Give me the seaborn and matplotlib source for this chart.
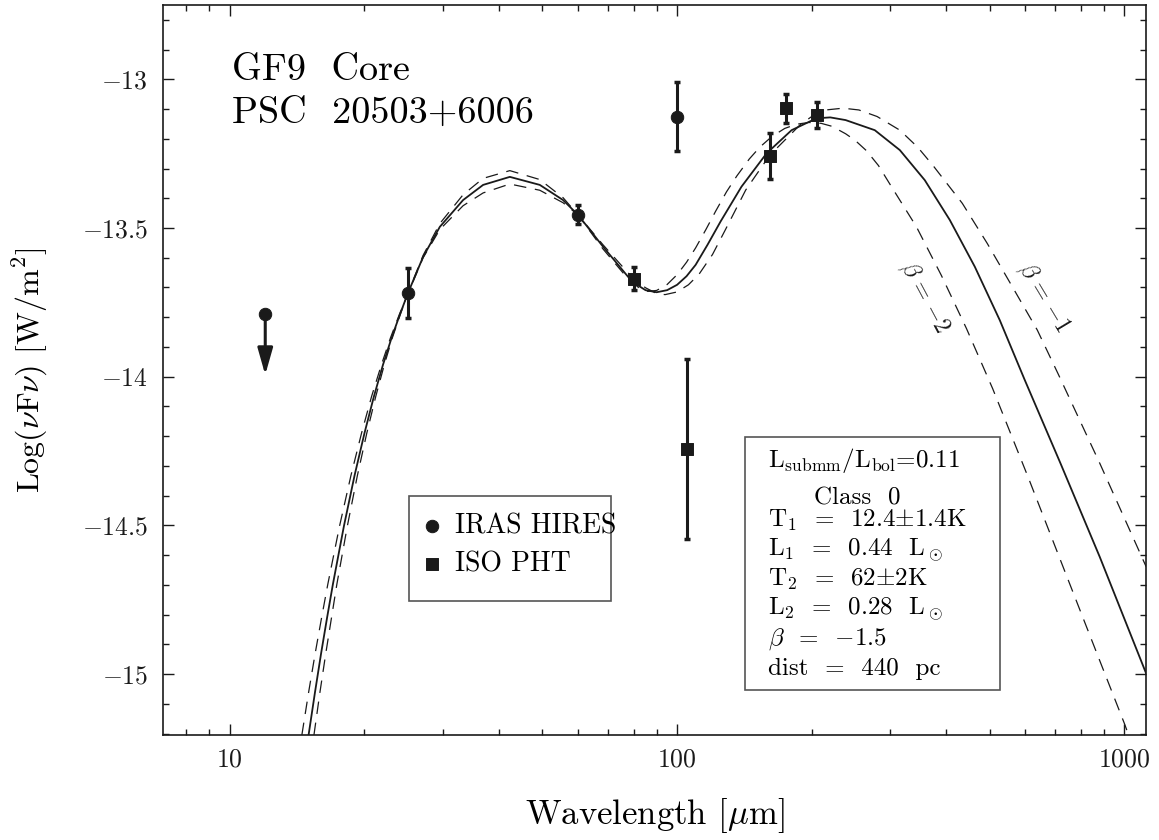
import numpy as np
import pandas as pd
import matplotlib
matplotlib.use("Agg")
import matplotlib.pyplot as plt
import seaborn as sns
from matplotlib.patches import Rectangle
from matplotlib.ticker import FixedLocator, MultipleLocator, LogLocator, NullFormatter

# --- model curves: wavelength [um] / log(nu F_nu) [W/m^2] ---
wl_fit = [15.0, 15.5, 16.0, 16.5, 17.0, 18.0, 19.0, 20.0, 21.0, 22.0,
          23.0, 24.0, 25.0, 27.05, 29.48, 33.23, 36.84, 42.27, 49.32, 55.6,
          60.06, 68.33, 77.7, 80, 85, 90, 95, 100, 105, 110,
          117, 125.1, 139.3, 158.5, 180.3, 204.9, 220, 238.1, 276.7, 314.8,
          357.9, 407.1, 463.0, 526.6, 598.8, 719.6, 881.0, 1118.7]
logf_fit = [-15.205, -15.062, -14.930, -14.810, -14.698, -14.501, -14.333, -14.190, -14.066, -13.960,
            -13.869, -13.791, -13.720, -13.597, -13.496, -13.406, -13.355, -13.328, -13.355, -13.406,
            -13.456, -13.563, -13.664, -13.684, -13.709, -13.716, -13.709, -13.691, -13.662, -13.624,
            -13.556, -13.478, -13.361, -13.249, -13.171, -13.131, -13.128, -13.137, -13.171, -13.238,
            -13.339, -13.473, -13.630, -13.810, -14.011, -14.291, -14.606, -14.998]

# beta = -1 variant
wl_b1 = [14.49, 15.0, 15.52, 16.04, 16.56, 17.6, 18.65, 19.7, 20.75, 21.82,
         22.87, 23.93, 25.03, 27.05, 29.48, 33.23, 36.84, 42.27, 49.32, 55.6,
         60.06, 68.25, 77.6, 80, 85, 90, 94, 100, 106, 112,
         120, 128, 142.4, 161.2, 188.1, 200, 215, 235, 255, 280,
         314.8, 345, 373.5, 434.2, 493.8, 561.5, 638.7, 713.4, 881.0, 1118.7]
logf_b1 = [-15.205, -15.062, -14.930, -14.810, -14.698, -14.501, -14.333, -14.190, -14.066, -13.960,
           -13.869, -13.791, -13.720, -13.600, -13.505, -13.425, -13.382, -13.352, -13.373, -13.415,
           -13.456, -13.556, -13.650, -13.671, -13.701, -13.720, -13.724, -13.715, -13.691, -13.655,
           -13.589, -13.508, -13.372, -13.255, -13.154, -13.125, -13.103, -13.097, -13.103, -13.125,
           -13.171, -13.228, -13.290, -13.417, -13.552, -13.697, -13.843, -13.995, -14.291, -14.639]

# beta = -2 variant
wl_b2 = [15.42, 15.9, 16.39, 16.88, 17.35, 18.32, 19.28, 20.24, 21.2, 22.15,
         23.09, 24.05, 25.03, 27.05, 29.48, 33.23, 36.84, 42.27, 49.32, 55.6,
         60.06, 68.25, 77.6, 82, 86, 90, 95, 100, 105, 110,
         116, 122, 129, 136, 145, 153.1, 163, 174.1, 185, 197,
         210, 222, 238.1, 250, 265.1, 282, 301.5, 342.9, 390, 443.6,
         507.6, 610.1, 733.1, 881, 1000, 1025]
logf_b2 = [-15.205, -15.062, -14.930, -14.810, -14.698, -14.501, -14.333, -14.190, -14.066, -13.960,
           -13.869, -13.791, -13.718, -13.592, -13.485, -13.388, -13.333, -13.307, -13.337, -13.398,
           -13.456, -13.570, -13.670, -13.700, -13.713, -13.710, -13.690, -13.657, -13.615, -13.567,
           -13.505, -13.443, -13.378, -13.325, -13.268, -13.228, -13.192, -13.165, -13.151, -13.145,
           -13.148, -13.158, -13.183, -13.205, -13.240, -13.290, -13.361, -13.496, -13.660, -13.838,
           -14.040, -14.340, -14.648, -14.955, -15.166, -15.21]

# --- photometry ---
iras_wl = [25, 60, 100]
iras_logf = [-13.718, -13.456, -13.126]
iras_err = [0.083, 0.032, 0.116]
iras_ul_wl = [12]          # upper limit
iras_ul_logf = [-13.789]
iras_ul_tip = [-13.994]

iso_wl = [80, 105, 161, 175, 206]
iso_logf = [-13.670, -14.243, -13.258, -13.098, -13.120]
iso_err = [0.040, 0.302, 0.076, 0.048, 0.043]

xtick_vals = [10, 100, 1000]
ytick_vals = [-15, -14.5, -14, -13.5, -13]

sns.set_theme(style="ticks")
plt.rcParams["font.family"] = "serif"
plt.rcParams["font.serif"] = ["cmr10"]
plt.rcParams["mathtext.fontset"] = "cm"
plt.rcParams["axes.formatter.use_mathtext"] = True
for k in ["text.color", "axes.labelcolor", "xtick.color", "ytick.color", "axes.edgecolor"]:
    plt.rcParams[k] = "black"

fig = plt.figure(figsize=(11.59, 8.4), dpi=100)
ax = fig.add_axes([0.1409, 0.125, 0.8479, 0.8694])

# model curves
sns.lineplot(x=wl_fit, y=logf_fit, ax=ax, color="k", lw=1.3, sort=False, estimator=None)
sns.lineplot(x=wl_b1, y=logf_b1, ax=ax, color="k", lw=0.9, sort=False, estimator=None,
             linestyle=(0, (10, 7)))
sns.lineplot(x=wl_b2, y=logf_b2, ax=ax, color="k", lw=0.9, sort=False, estimator=None,
             linestyle=(0, (10, 7)))

# error bars + markers
ax.errorbar(iras_wl, iras_logf, yerr=iras_err, fmt="none", ecolor="k", elinewidth=2.2,
            capsize=2, capthick=2.5, zorder=3)
ax.errorbar(iso_wl, iso_logf, yerr=iso_err, fmt="none", ecolor="k", elinewidth=2.2,
            capsize=2, capthick=2.5, zorder=3)
sns.scatterplot(x=iras_wl + iras_ul_wl, y=iras_logf + iras_ul_logf, ax=ax, marker="o", s=80,
                color="k", edgecolor="k", label="IRAS HIRES", zorder=4)
sns.scatterplot(x=iso_wl, y=iso_logf, ax=ax, marker="s", s=75,
                color="k", edgecolor="k", label="ISO PHT", zorder=4)

# upper limit arrow
for w, f0, f1 in zip(iras_ul_wl, iras_ul_logf, iras_ul_tip):
    ax.annotate("", xy=(w, f1), xytext=(w, f0),
                arrowprops=dict(arrowstyle="-|>,head_length=0.6,head_width=0.17",
                                mutation_scale=27, lw=2.2, color="k",
                                shrinkA=0, shrinkB=0))

ax.set_xscale("log")
ax.set_xlim(7.1, 1118)
ax.set_ylim(-15.205, -12.749)

ax.xaxis.set_major_locator(FixedLocator(xtick_vals))
ax.set_xticklabels([f"${v}$" for v in xtick_vals])
ax.xaxis.set_minor_locator(LogLocator(base=10, subs=np.arange(2, 10)))
ax.xaxis.set_minor_formatter(NullFormatter())
ax.yaxis.set_major_locator(FixedLocator(ytick_vals))
ax.set_yticklabels([f"$-{abs(v):g}$" for v in ytick_vals])
ax.yaxis.set_minor_locator(MultipleLocator(0.1))

ax.tick_params(which="both", direction="in", top=True, right=True, colors="k", width=1.0)
ax.tick_params(which="major", length=8, labelsize=18.5)
ax.tick_params(which="minor", length=4)
ax.tick_params(axis="x", which="major", pad=9)
ax.tick_params(axis="y", which="major", pad=11)
for s in ax.spines.values():
    s.set_color("k")
    s.set_linewidth(1.2)

ax.set_xlabel(r"Wavelength [$\mu$m]", fontsize=25)
ax.set_ylabel(r"Log($\nu$F$\nu$) [W/m$^2$]", fontsize=23)
ax.xaxis.set_label_coords(0.5, -0.083)
ax.yaxis.set_label_coords(-0.115, 0.5)

# titles
ax.text(0.07, 0.897, "GF9  Core", transform=ax.transAxes, fontsize=27.5, va="baseline")
ax.text(0.07, 0.838, "PSC  20503+6006", transform=ax.transAxes, fontsize=27.5, va="baseline")

# curve labels
ax.text(358, -13.735, r"$\beta$ = $-$2", fontsize=17, rotation=-62, ha="center", va="center",
        rotation_mode="anchor", color="k")
ax.text(660, -13.735, r"$\beta$ = $-$1", fontsize=17, rotation=-59, ha="center", va="center",
        rotation_mode="anchor", color="k")

# legend box
ax.add_patch(Rectangle((0.2497, 0.1839), 0.2056, 0.1434, transform=ax.transAxes,
                       fill=False, edgecolor="#555555", lw=1.2, zorder=5))
handles, labels = ax.get_legend_handles_labels()
ax.legend(handles, labels, loc="center left", bbox_to_anchor=(0.259, 0.2595), frameon=False,
          fontsize=20, handlelength=1.0, handletextpad=0.35, borderpad=0, borderaxespad=0,
          labelspacing=0.42)

# parameter box
ax.add_patch(Rectangle((0.5915, 0.0616), 0.2599, 0.3469, transform=ax.transAxes,
                       fill=False, edgecolor="#555555", lw=1.2, zorder=5))
info_lines = [
    (0.6153, 0.3666, r"L$_{\rm submm}$/L$_{\rm bol}$=0.11"),
    (0.6622, 0.3163, "Class  0"),
    (0.6153, 0.2852, r"T$_1$  =  12.4$\pm$1.4K"),
    (0.6153, 0.2451, r"L$_1$  =  0.44  L$_\odot$"),
    (0.6153, 0.2040, r"T$_2$  =  62$\pm$2K"),
    (0.6153, 0.1643, r"L$_2$  =  0.28  L$_\odot$"),
    (0.6153, 0.1232, r"$\beta$  =  $-$1.5"),
    (0.6153, 0.0822, "dist  =  440  pc"),
]
for x, y, t in info_lines:
    ax.text(x, y, t, transform=ax.transAxes, fontsize=18, va="baseline")

fig.savefig("out.png", dpi=100)
